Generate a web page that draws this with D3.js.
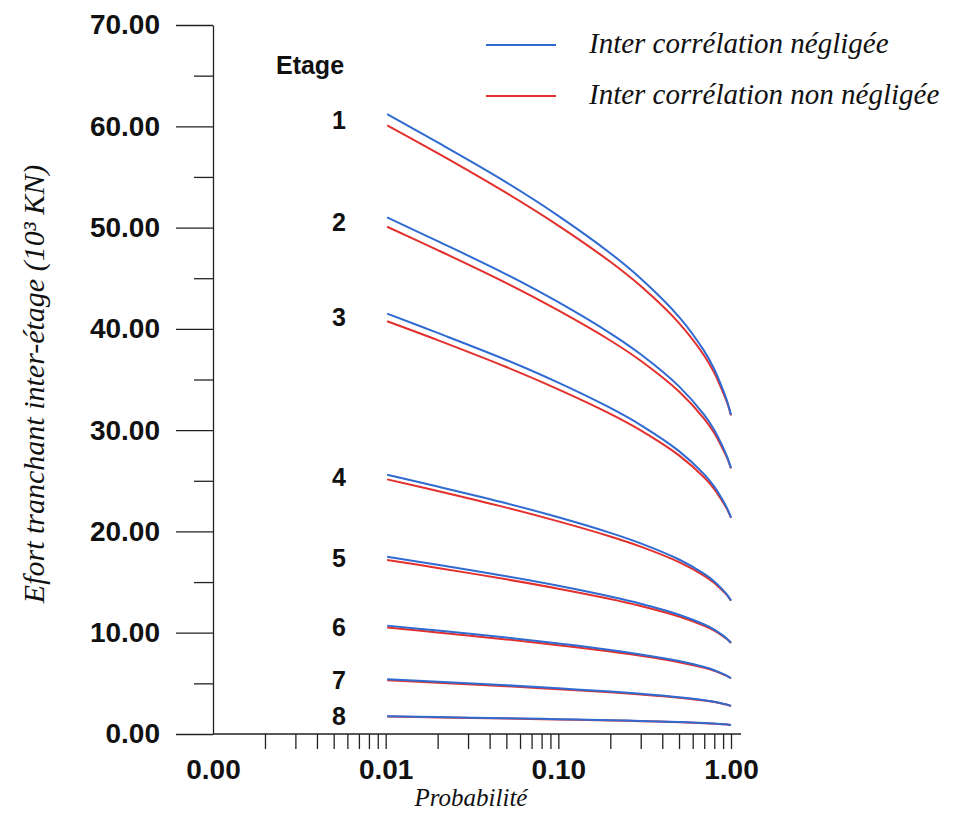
<!DOCTYPE html>
<html>
<head>
<meta charset="utf-8">
<script src="https://cdn.jsdelivr.net/npm/d3@7"></script>
<style>
  body { margin: 0; background: #fff; }
  svg { display: block; }
</style>
</head>
<body>
<div id="chart"></div>
<script>
// probabilities (log axis) and shear per storey
const probs = [0.0102, 0.02, 0.05, 0.1, 0.2, 0.3, 0.5, 0.7, 0.8, 0.9, 0.95, 1.0];
const etages = [1, 2, 3, 4, 5, 6, 7, 8];

// Inter corrélation négligée (blue)
const negligee = [
  [61.2, 58.4, 54.46, 51.16, 47.47, 44.98, 41.19, 37.8, 36.01, 33.94, 32.84, 31.51],
  [51.0, 48.66, 45.38, 42.63, 39.56, 37.49, 34.32, 31.5, 30.01, 28.28, 27.37, 26.26],
  [41.5, 39.6, 36.93, 34.69, 32.19, 30.5, 27.93, 25.63, 24.42, 23.02, 22.27, 21.37],
  [25.6, 24.43, 22.78, 21.4, 19.86, 18.82, 17.23, 15.81, 15.06, 14.2, 13.74, 13.18],
  [17.5, 16.7, 15.57, 14.63, 13.57, 12.86, 11.78, 10.81, 10.3, 9.71, 9.39, 9.01],
  [10.7, 10.21, 9.52, 8.94, 8.3, 7.86, 7.2, 6.61, 6.3, 5.93, 5.74, 5.51],
  [5.4, 5.15, 4.81, 4.51, 4.19, 3.97, 3.63, 3.34, 3.18, 2.99, 2.9, 2.78],
  [1.75, 1.67, 1.56, 1.46, 1.36, 1.29, 1.18, 1.08, 1.03, 0.97, 0.94, 0.9]
];

// Inter corrélation non négligée (red)
const nonNegligee = [
  [60.1, 57.35, 53.42, 50.19, 46.62, 44.22, 40.57, 37.35, 35.65, 33.7, 32.71, 31.45],
  [50.08, 47.78, 44.52, 41.82, 38.85, 36.85, 33.81, 31.12, 29.71, 28.08, 27.26, 26.21],
  [40.75, 38.89, 36.23, 34.03, 31.61, 29.98, 27.51, 25.32, 24.18, 22.86, 22.18, 21.33],
  [25.14, 23.99, 22.35, 20.99, 19.5, 18.5, 16.97, 15.62, 14.91, 14.1, 13.69, 13.15],
  [17.19, 16.4, 15.27, 14.35, 13.33, 12.64, 11.6, 10.68, 10.2, 9.64, 9.35, 8.99],
  [10.51, 10.03, 9.34, 8.77, 8.15, 7.73, 7.09, 6.53, 6.24, 5.89, 5.72, 5.5],
  [5.3, 5.06, 4.72, 4.42, 4.11, 3.9, 3.58, 3.3, 3.15, 2.97, 2.89, 2.77],
  [1.72, 1.64, 1.53, 1.43, 1.34, 1.27, 1.16, 1.07, 1.02, 0.96, 0.94, 0.9]
];

const yMajor = [0, 10, 20, 30, 40, 50, 60, 70];
const yMinor = [5, 15, 25, 35, 45, 55, 65];
const xMajor = [0.001, 0.01, 0.1, 1];

const series = [
  { name: "Inter corrélation négligée", color: "#2f6bd0", data: negligee },
  { name: "Inter corrélation non négligée", color: "#e3302c", data: nonNegligee }
];

const width = 954, height = 815;
const sans = "'Liberation Sans', Arial, sans-serif";
const serif = "'Liberation Serif', 'Times New Roman', serif";

const svg = d3.select("#chart").append("svg")
  .attr("width", width)
  .attr("height", height);

const x = d3.scaleLog().domain([0.001, 1]).range([213, 731]);
const y = d3.scaleLinear().domain([0, 70]).range([734, 25]);

// x minor ticks: 2..9 in every decade + decade marks
let xTicks = [];
[0.001, 0.01, 0.1].forEach(d => {
  for (let k = 2; k <= 10; k++) xTicks.push(+(d * k).toPrecision(3));
});

// --- y axis
svg.append("g")
  .attr("transform", `translate(${x(0.001)},0)`)
  .call(d3.axisLeft(y).tickValues(yMajor).tickSize(37).tickSizeOuter(0)
    .tickPadding(16).tickFormat(d3.format(".2f")));
svg.append("g")
  .attr("transform", `translate(${x(0.001)},0)`)
  .call(d3.axisLeft(y).tickValues(yMinor).tickSize(19).tickSizeOuter(0).tickFormat(""))
  .select(".domain").remove();

// --- x axis
const xAxis = svg.append("g")
  .attr("transform", `translate(0,${y(0)})`)
  .call(d3.axisBottom(x).tickValues(xTicks).tickSize(15).tickSizeOuter(0)
    .tickFormat(""));
xAxis.select(".domain").remove();
svg.append("g")
  .attr("transform", `translate(0,${y(0)})`)
  .call(d3.axisBottom(x).tickValues(xMajor).tickSize(0).tickPadding(25)
    .tickFormat(d3.format(".2f")))
  .select(".domain").remove();
svg.append("line")
  .attr("x1", x(0.001)).attr("x2", x(1) + 10)
  .attr("y1", y(0)).attr("y2", y(0))
  .attr("stroke", "#222").attr("stroke-width", 1.3);

svg.selectAll(".tick line").attr("stroke", "#222").attr("stroke-width", 1.3);
svg.selectAll(".domain").attr("stroke", "#222").attr("stroke-width", 1.3);
svg.selectAll(".tick text")
  .attr("fill", "#111")
  .style("font-family", sans)
  .style("font-weight", "bold")
  .style("font-size", "28px");

// --- curves
const line = d3.line()
  .x((d, i) => x(probs[i]))
  .y(d => y(d))
  .curve(d3.curveCatmullRom.alpha(0.5));

series.slice().reverse().forEach(s => {
  svg.append("g").selectAll("path")
    .data(s.data)
    .join("path")
    .attr("d", line)
    .attr("fill", "none")
    .attr("stroke", s.color)
    .attr("stroke-width", 2);
});

// --- storey labels
svg.append("text")
  .attr("x", 310).attr("y", 74)
  .attr("text-anchor", "middle")
  .style("font-family", sans).style("font-weight", "bold").style("font-size", "25px")
  .attr("fill", "#111")
  .text("Etage");

svg.append("g").selectAll("text")
  .data(etages)
  .join("text")
  .attr("x", 339)
  .attr("y", (d, i) => y((negligee[i][0] + nonNegligee[i][0]) / 2))
  .attr("dy", "0.36em")
  .attr("text-anchor", "middle")
  .style("font-family", sans).style("font-weight", "bold").style("font-size", "25px")
  .attr("fill", "#111")
  .text(d => d);

// --- legend
const legend = svg.append("g");
series.forEach((s, i) => {
  const ly = 45 + i * 51;
  legend.append("line")
    .attr("x1", 486).attr("x2", 556)
    .attr("y1", ly).attr("y2", ly)
    .attr("stroke", s.color).attr("stroke-width", 2);
  legend.append("text")
    .attr("x", 589).attr("y", ly + 8)
    .style("font-family", serif).style("font-style", "italic").style("font-size", "29px")
    .attr("fill", "#111")
    .text(s.name);
});

// --- axis titles
svg.append("text")
  .attr("x", 471).attr("y", 806)
  .attr("text-anchor", "middle")
  .style("font-family", serif).style("font-style", "italic").style("font-size", "25px")
  .attr("fill", "#111")
  .text("Probabilité");

svg.append("text")
  .attr("transform", "translate(44,384) rotate(-90)")
  .attr("text-anchor", "middle")
  .style("font-family", serif).style("font-style", "italic").style("font-size", "30px")
  .attr("fill", "#111")
  .text("Efort tranchant inter-étage (10³ KN)");
</script>
</body>
</html>
